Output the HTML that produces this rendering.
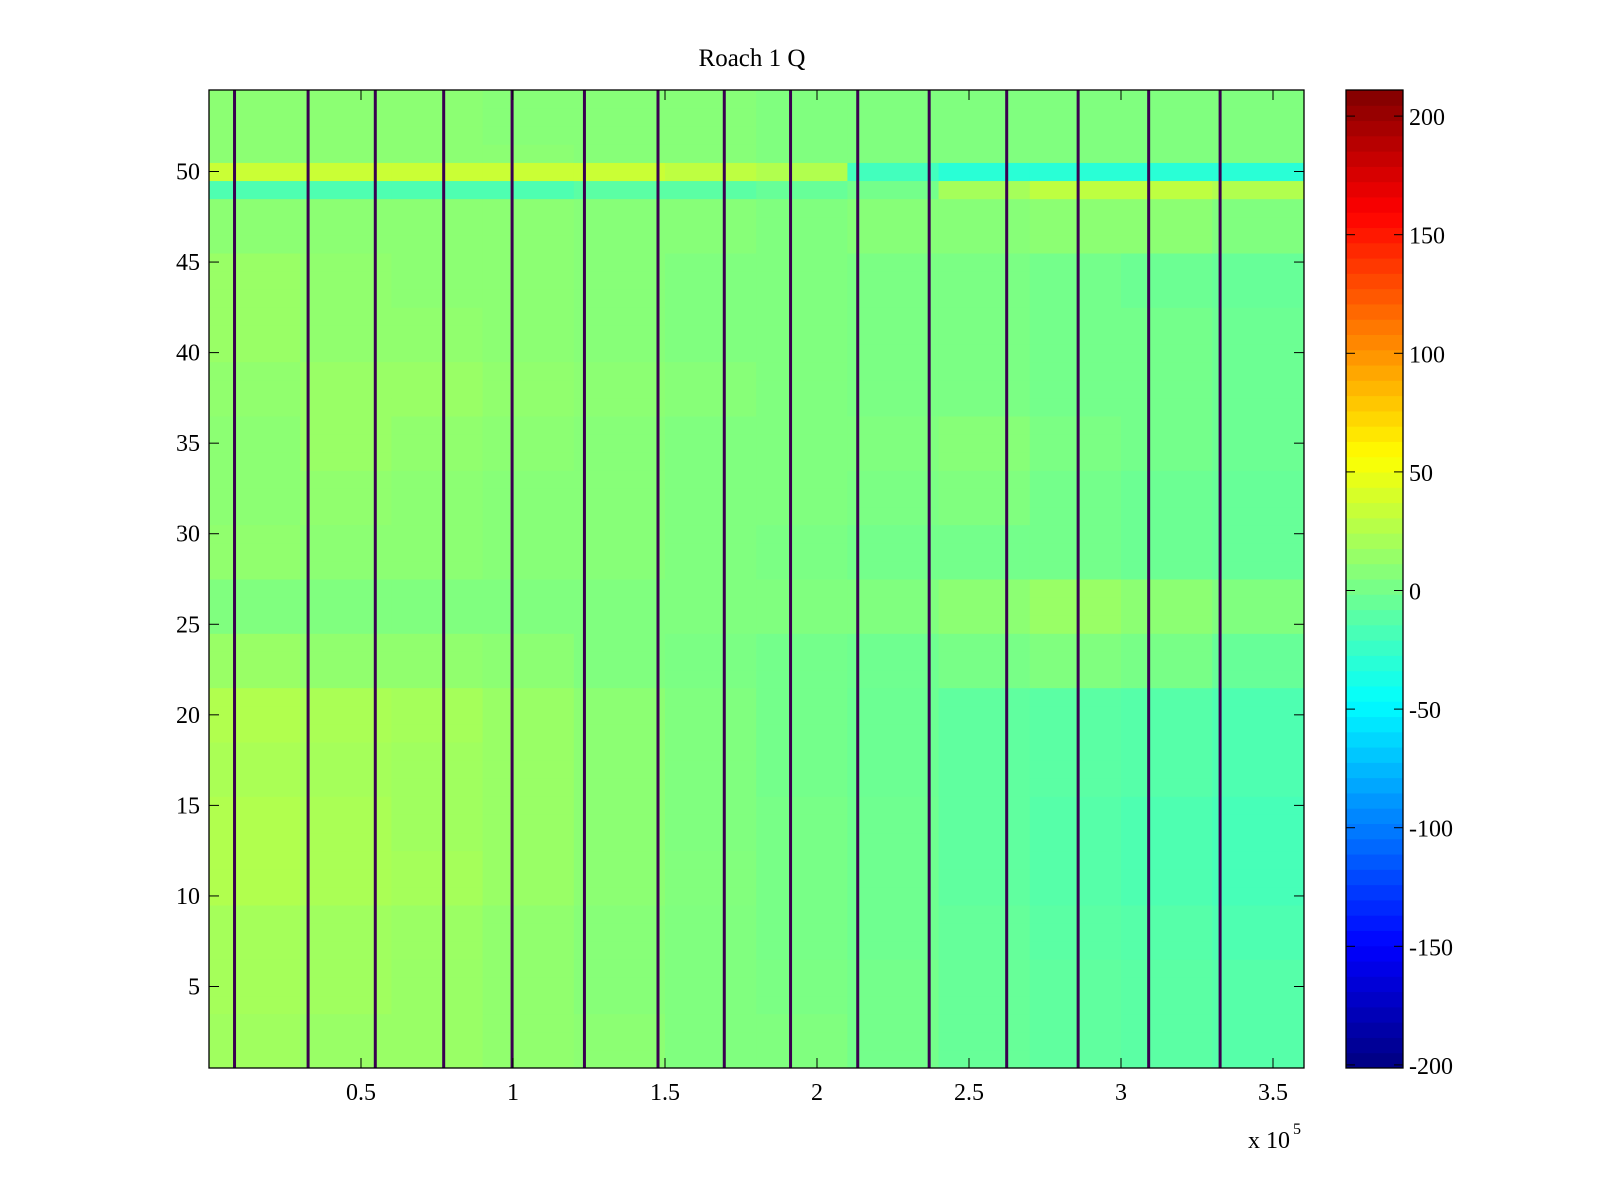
<!DOCTYPE html>
<html><head><meta charset="utf-8"><style>
html,body{margin:0;padding:0;background:#fff;width:1600px;height:1200px;overflow:hidden}
svg text{font-family:"Liberation Serif",serif;fill:#000}
</style></head><body>
<svg id="chart" width="1600" height="1200" xmlns="http://www.w3.org/2000/svg"></svg>
<script>
// ---- data ----
const xTicks=[0.5,1,1.5,2,2.5,3,3.5];
const xTickLabels=["0.5","1","1.5","2","2.5","3","3.5"];
const yTicks=[5,10,15,20,25,30,35,40,45,50];
const cbTicks=[-200,-150,-100,-50,0,50,100,150,200];
const colStarts=[0,0.3,0.6,0.9,1.2,1.5,1.8,2.1,2.4,2.7,3.0,3.3]; // x10^5
// row bands of 3 rows each, bottom to top
const bandValues=[
[18,15,15,12,10,5,5,0,-5,-8,-10,-12],
[20,18,15,12,8,5,3,0,-5,-8,-10,-12],
[20,18,16,12,8,5,2,-2,-6,-10,-12,-15],
[25,22,20,15,10,6,2,-2,-8,-12,-15,-18],
[25,22,18,15,10,5,2,-2,-8,-12,-15,-18],
[22,20,18,15,10,5,0,-3,-8,-10,-12,-15],
[25,22,20,15,10,5,0,-3,-8,-10,-12,-15],
[15,12,12,10,5,3,0,-2,2,5,2,-5],
[5,5,5,5,5,5,5,5,10,15,10,5],
[12,10,10,8,8,5,3,0,0,0,-3,-5],
[10,12,10,8,8,5,5,3,5,0,-3,-5],
[10,15,12,10,8,5,5,5,8,3,0,-3],
[12,15,15,12,10,8,5,3,3,0,0,-3],
[15,12,12,10,8,5,5,3,3,0,0,-3],
[15,12,10,10,8,5,5,3,3,0,-3,-5],
[10,10,10,10,8,8,5,8,8,10,10,5],
[10,10,10,10,8,8,5,5,5,5,5,5],
[10,10,10,8,8,8,5,5,5,5,5,5]
];
const row50=[35,35,35,35,35,30,25,-20,-30,-30,-30,-30];
const row49=[-15,-15,-15,-15,-10,-10,-5,0,20,30,30,25];
const stripeX=[0.084,0.326,0.547,0.772,0.997,1.235,1.477,1.695,1.913,2.134,2.369,2.624,2.859,3.091,3.326];

// ---- layout ----
const L=209,R=1304,T=90,B=1068;
const xMax=(R-L)/304;
const xs=v=>L+v/xMax*(R-L);
const ys=v=>B-(v-0.5)/54*(B-T);
const CBL=1346,CBR=1403,cMin=-201.3,cMax=211;
const cs=v=>B-(v-cMin)/(cMax-cMin)*(B-T);
const NS="http://www.w3.org/2000/svg";
const svg=document.getElementById('chart');
function mk(tag,attrs,parent){const e=document.createElementNS(NS,tag);for(const k in attrs)e.setAttribute(k,attrs[k]);(parent||svg).appendChild(e);return e;}
function jet(v){let t=(v-cMin)/(cMax-cMin);t=Math.max(0,Math.min(1,t));
 const f=x=>Math.max(0,Math.min(1,x));
 const r=f(1.5-Math.abs(4*t-3)),g=f(1.5-Math.abs(4*t-2)),b=f(1.5-Math.abs(4*t-1));
 return `rgb(${Math.round(r*255)},${Math.round(g*255)},${Math.round(b*255)})`;}

const gCells=mk('g',{});


for(let row=1;row<=54;row++){
 let vals=bandValues[Math.floor((row-1)/3)];
 if(row===50)vals=row50;
 if(row===49)vals=row49;
 for(let c=0;c<colStarts.length;c++){
  const x0=xs(colStarts[c]),x1=c+1<colStarts.length?xs(colStarts[c+1]):R;
  const el=mk('rect',{x:x0,y:ys(row+0.5),width:x1-x0+0.5,height:ys(row-0.5)-ys(row+0.5)+0.5,fill:jet(vals[c])},gCells);
  
  
 }
}
for(const s of stripeX){
 const el=mk('rect',{x:xs(s)-1.5,y:T,width:3,height:B-T,fill:'#3a0050'});
 
 
}
const frame=mk('rect',{x:L,y:T,width:R-L,height:B-T,fill:'none',stroke:'#000','stroke-width':1.3});


xTicks.forEach((v,i)=>{const x=xs(v);
 mk('line',{x1:x,x2:x,y1:B,y2:B-10,stroke:'#000'});mk('line',{x1:x,x2:x,y1:T,y2:T+10,stroke:'#000'});
 const t=mk('text',{x:x,y:1100,'text-anchor':'middle','font-size':24});t.textContent=xTickLabels[i];
 });
yTicks.forEach(v=>{const y=ys(v);
 mk('line',{x1:L,x2:L+10,y1:y,y2:y,stroke:'#000'});mk('line',{x1:R,x2:R-10,y1:y,y2:y,stroke:'#000'});
 const t=mk('text',{x:200,y:y+8,'text-anchor':'end','font-size':24});t.textContent=v;
 });
const title=mk('text',{x:752,y:66,'text-anchor':'middle','font-size':25});title.textContent='Roach 1 Q';

const xe=mk('text',{x:1248,y:1148,'font-size':24});xe.textContent='x 10';

const xe2=mk('text',{x:1293,y:1134,'font-size':16});xe2.textContent='5';


// colorbar
const gcb=mk('g',{});


const N=64;
for(let i=0;i<N;i++){const v0=cMin+(cMax-cMin)*i/N,v1=cMin+(cMax-cMin)*(i+1)/N;
 mk('rect',{x:CBL,y:cs(v1),width:CBR-CBL,height:cs(v0)-cs(v1)+0.5,fill:jet((v0+v1)/2)},gcb);}
mk('rect',{x:CBL,y:T,width:CBR-CBL,height:B-T,fill:'none',stroke:'#000','stroke-width':1.3},gcb);
cbTicks.forEach(v=>{const y=cs(v);
 mk('line',{x1:CBL,x2:CBL+9,y1:y,y2:y,stroke:'#000'},gcb);mk('line',{x1:CBR,x2:CBR-9,y1:y,y2:y,stroke:'#000'},gcb);
 const t=mk('text',{x:1409,y:y+9,'font-size':24},gcb);t.textContent=v;
 });
</script>
</body></html>
